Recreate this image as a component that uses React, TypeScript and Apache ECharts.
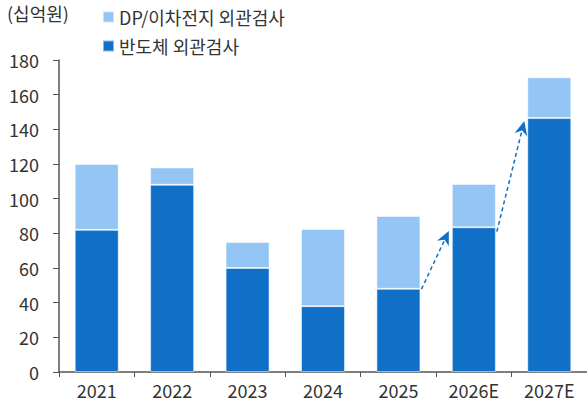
import React, { useEffect, useRef } from "react";
import * as echarts from "echarts";

const categories = ["2021", "2022", "2023", "2024", "2025", "2026E", "2027E"];
const semiconductor = [82, 108, 60, 38, 48, 83.5, 146.5];
const dpBattery = [38, 10, 15, 44.5, 42, 25, 23.5];
const yTicks = { min: 0, max: 180, interval: 20 };
// arrows: [fromCategoryIndex, fromValue, toCategoryIndex, toValue]
const arrows: [number, number, number, number][] = [
  [4, 47.8, 5, 81.4],
  [5, 81, 6, 144.8],
];

const DARK = "#106FC7";
const LIGHT = "#93C5F5";
const FONT = "'Noto Sans CJK KR', 'Noto Sans', sans-serif";
const FW = 400;
const FS = 18;
const BAR_W = 44;

export default function App() {
  const ref = useRef<HTMLDivElement>(null);
  useEffect(() => {
    if (!ref.current) return;
    const chart = echarts.init(ref.current, undefined, { renderer: "svg" });
    const unitText = {
      type: "text",
      left: 7,
      top: 4,
      style: { text: "(십억원)", fontSize: FS, fontWeight: FW, fill: "#333", fontFamily: FONT },
    };
    chart.setOption({
      animation: false,
      textStyle: { fontFamily: FONT },
      grid: { left: 59, right: 0, top: 60, bottom: 35, containLabel: false },
      legend: {
        orient: "vertical",
        left: 97,
        top: 3,
        itemWidth: 11,
        itemHeight: 11,
        itemGap: 11,
        icon: "rect",
        textStyle: { fontSize: FS, fontWeight: FW, color: "#333", fontFamily: FONT },
        data: ["DP/이차전지 외관검사", "반도체 외관검사"],
      },
      xAxis: {
        type: "category",
        data: categories,
        axisLine: { show: true, lineStyle: { color: "#555", width: 1.5 } },
        axisTick: { show: true, length: 5, lineStyle: { color: "#555" } },
        axisLabel: { color: "#333", fontSize: FS, fontWeight: FW, margin: 9, fontFamily: FONT },
      },
      yAxis: {
        type: "value",
        min: yTicks.min,
        max: yTicks.max,
        interval: yTicks.interval,
        splitLine: { show: false },
        axisLine: { show: true, lineStyle: { color: "#555", width: 1.5 } },
        axisTick: { show: true, length: 6, lineStyle: { color: "#555" } },
        axisLabel: { color: "#333", fontSize: FS, fontWeight: FW, margin: 20, fontFamily: FONT },
      },
      graphic: [unitText],
      series: [
        {
          name: "반도체 외관검사",
          type: "bar",
          stack: "a",
          barWidth: BAR_W,
          data: semiconductor,
          itemStyle: { color: DARK, borderColor: "rgba(255,255,255,0.5)", borderWidth: 1 },
        },
        {
          name: "DP/이차전지 외관검사",
          type: "bar",
          stack: "a",
          barWidth: BAR_W,
          data: dpBattery,
          itemStyle: { color: LIGHT, borderColor: "rgba(255,255,255,0.5)", borderWidth: 1 },
        },
      ],
    });

    const els: any[] = [];
    arrows.forEach(([fi, fv, ti, tv]) => {
      const a = chart.convertToPixel({ gridIndex: 0 }, [fi, fv]) as number[];
      const b = chart.convertToPixel({ gridIndex: 0 }, [ti, tv]) as number[];
      const x1 = a[0] + BAR_W / 2 + 1;
      const y1 = a[1];
      const x2 = b[0] - BAR_W / 2 - 3;
      const y2 = b[1];
      const dx = x2 - x1;
      const dy = y2 - y1;
      const len = Math.sqrt(dx * dx + dy * dy);
      const ux = dx / len;
      const uy = dy / len;
      const nx = -uy;
      const ny = ux;
      const hl = 14;
      const hw = 6.5;
      const baseX = x2 - ux * hl;
      const baseY = y2 - uy * hl;
      const notchX = x2 - ux * hl * 0.7;
      const notchY = y2 - uy * hl * 0.7;
      els.push({
        type: "line",
        shape: { x1, y1, x2: notchX, y2: notchY },
        style: { stroke: DARK, lineWidth: 1.5, lineDash: [4, 3] },
        z: 100,
      });
      els.push({
        type: "polygon",
        shape: {
          points: [
            [x2, y2],
            [baseX + nx * hw, baseY + ny * hw],
            [notchX, notchY],
            [baseX - nx * hw, baseY - ny * hw],
          ],
        },
        style: { fill: DARK },
        z: 100,
      });
    });
    chart.setOption({ graphic: [unitText, ...els] }, { replaceMerge: ["graphic"] });

    return () => chart.dispose();
  }, []);
  return <div ref={ref} style={{ width: 587, height: 407, position: "absolute", left: 0, top: 0 }} />;
}
